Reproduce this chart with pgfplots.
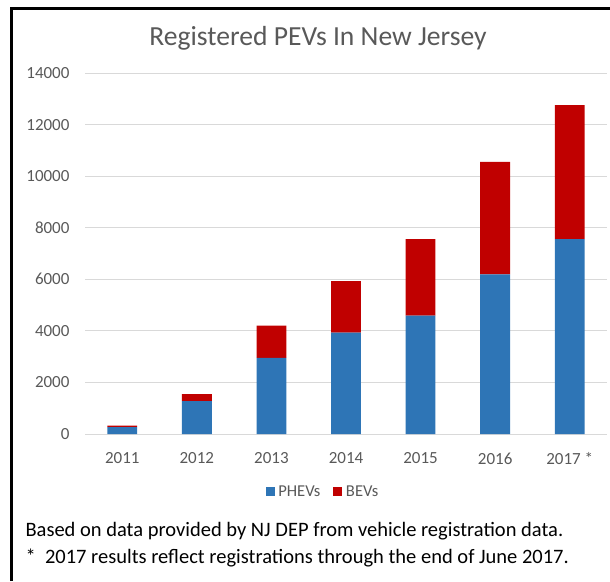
\documentclass[border=0pt]{standalone}
\usepackage{pgfplots}
\pgfplotsset{compat=1.18}
\usepackage{fontspec}
\setmainfont{Carlito}
\definecolor{phev}{HTML}{2E75B6}
\definecolor{bev}{HTML}{C00000}
\definecolor{txtgrey}{HTML}{595959}
\definecolor{gridgrey}{HTML}{D9D9D9}
\pgfplotstableread{
x phev bev
0 270 55
1 1280 270
2 2950 1250
3 3930 2000
4 4590 2970
5 6190 4365
6 7560 5190
}\datatable
\begin{document}
\begin{tikzpicture}
\useasboundingbox (0pt,0pt) rectangle (610pt,-581pt);
\draw[line width=3pt,black] (11pt,-581pt) -- (11pt,-8pt) -- (612pt,-8pt);
\node[text=txtgrey,font=\fontsize{27.6}{32}\selectfont] at (318pt,-38pt) {Registered PEVs In New Jersey};
\begin{axis}[
  at={(85pt,-434pt)}, anchor=south west,
  scale only axis, width=522pt, height=361pt,
  ybar stacked, bar width=0.4,
  xmin=-0.5, xmax=6.5, ymin=0, ymax=14000,
  ytick={0,2000,...,14000},
  scaled y ticks=false,
  xtick=data,
  xticklabels={2011,2012,2013,2014,2015,2016,2017 *},
  axis line style={draw=none},
  major tick length=0pt,
  ymajorgrids, grid style={gridgrey,line width=1pt},
  tick label style={text=txtgrey,font=\fontsize{17}{20}\selectfont},
  yticklabel style={xshift=-12pt},
  xticklabel style={yshift=-15pt},
  /pgf/number format/assume math mode=true,
  /pgf/number format/1000 sep={},
  legend columns=2,
  legend style={at={(0.456,-0.16)}, anchor=center, draw=none, fill=none,
    font=\fontsize{16.6}{20}\selectfont, text=txtgrey,
    /tikz/every even column/.append style={column sep=11pt}},
  legend image code/.code={\fill[#1] (0pt,-4.5pt) rectangle (9pt,4.5pt);},
]
\addplot[fill=phev, draw=none] table[x=x,y=phev]{\datatable};
\addlegendentry{\hspace{1.5pt}PHEVs}
\addplot[fill=bev, draw=none] table[x=x,y=bev]{\datatable};
\addlegendentry{\hspace{1.5pt}BEVs}
\end{axis}
\node[anchor=west,font=\fontsize{20.5}{24}\selectfont] at (22pt,-531pt) {Based on data provided by NJ DEP from vehicle registration data.};
\node[anchor=west,font=\fontsize{20.5}{24}\selectfont] at (22pt,-558pt) {*\ \ 2017 results reflect registrations through the end of June 2017.};
\end{tikzpicture}
\end{document}
